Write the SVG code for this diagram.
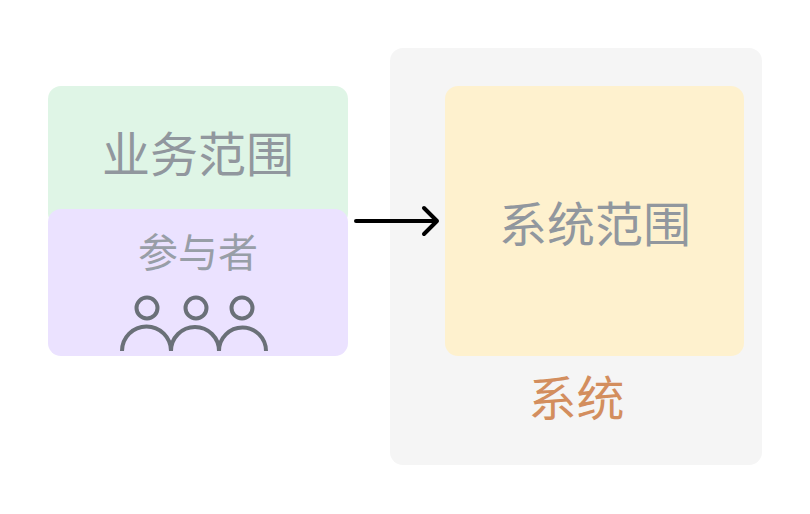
<svg xmlns="http://www.w3.org/2000/svg" width="810" height="514" viewBox="0 0 810 514">
<style>
text{font-family:"Noto Sans CJK SC","Noto Sans",sans-serif;text-anchor:middle;}
.g{fill:#91979e;font-size:48px;}
.icon{fill:none;stroke:#6a7078;stroke-width:4;}
.arrow{fill:none;stroke:#000;stroke-width:4;stroke-linecap:round;stroke-linejoin:round;}
</style>
<rect width="810" height="514" fill="#fff"/>
<g id="system">
<rect x="390" y="48" width="372" height="417" rx="13" fill="#f5f5f5"/>
<text x="576.500" y="416" font-size="48" style="fill:#d38e5e">系统</text>
</g>
<g id="system-scope">
<rect x="445" y="86" width="299" height="270" rx="13" fill="#fef1ce"/>
<text class="g" x="595" y="242">系统范围</text>
</g>
<g id="business-scope">
<rect x="48" y="86" width="300" height="140" rx="13" fill="#dff5e6"/>
<text class="g" x="198" y="172">业务范围</text>
</g>
<g id="participants">
<rect x="48" y="209" width="300" height="147" rx="13" fill="#ebe2ff"/>
<text x="198" y="267" font-size="40" style="fill:#989ea7">参与者</text>
<g class="icon">
<circle cx="147" cy="308" r="10.500"/>
<circle cx="196" cy="308" r="10.500"/>
<circle cx="242" cy="308" r="10.500"/>
<path d="M122 351a24.500 24.500 0 0 1 49 0"/>
<path d="M171 351a24 24 0 0 1 48 0"/>
<path d="M219 351a23.500 23.500 0 0 1 47 0"/>
</g>
</g>
<g id="connectors">
<path class="arrow" d="M356 221H437M424 208L437 221L424 234"/>
</g>
</svg>
